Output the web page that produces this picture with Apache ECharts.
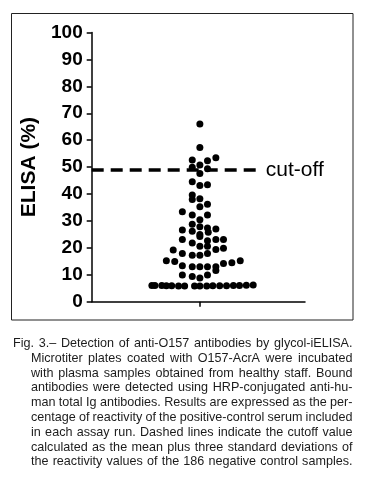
<!DOCTYPE html>
<html>
<head>
<meta charset="utf-8">
<script src="https://cdn.jsdelivr.net/npm/echarts@6/dist/echarts.min.js"></script>
<style>
html,body{margin:0;padding:0;background:#fff;}
#chart{width:365px;height:481px;}
</style>
</head>
<body>
<div id="chart"></div>
<script>
// ---- data ----
const yTickValues = [0, 10, 20, 30, 40, 50, 60, 70, 80, 90, 100];
const yAxisTitle = 'ELISA (%)';
const cutoffValue = 49;
const cutoffLabel = 'cut-off';
// horizontal jitter (scatter-dot-plot column) of each sample
const jitter = [
  0, 0,
  2.1, -1, 1,
  0, -1, 1, 0,
  -1, 0, 1,
  -1, -1, 0,
  1, 0,
  -2.3, -1, 1, 0,
  -1, 0, 1, 2.1, -2.3, -1, 1.1, 0,
  -2.3, 0, 2.1, 3.1, 1,
  -1, 0, 1, 2.1, 3.1,
  -3.5, -2.3, -1, 0, 1,
  -4.4, -3.3,
  -2.3, -1, 0, 1, 2.1, 3.1, 4.2, 5.3, 2.1,
  -2.3, -1, 0, 1,
  -6.3, -5.9, -5.0, -4.4, -3.7, -2.8, -2.0, -0.7, 0, 0.9, 1.7, 2.6, 3.5, 4.4, 5.2, 6.1, 7.0
];
// ELISA reactivity (% of positive control)
const elisa = [
  66.0, 57.3,
  53.5, 52.6, 52.4,
  50.8, 49.9, 49.4, 47.6,
  44.6, 43.2, 43.4,
  39.6, 38.0, 38.2,
  36.2, 35.3,
  33.4, 32.2, 32.2, 30.4,
  28.8, 27.8, 27.4, 27.0, 26.6, 26.2, 25.8, 25.0,
  23.1, 24.2, 23.1, 23.1, 22.6,
  21.8, 20.6, 20.6, 19.4, 19.9,
  19.2, 17.9, 17.3, 17.3, 17.9,
  15.2, 14.9,
  13.4, 13.0, 13.0, 13.0, 13.0, 14.2, 14.5, 15.2, 11.6,
  9.9, 9.4, 8.8, 9.9,
  6.0, 6.0, 6.0, 5.9, 5.9, 5.8, 5.8, 5.8, 5.8, 5.8, 5.9, 5.9, 5.9, 6.0, 6.0, 6.1, 6.2
];
const captionLines = [
  'Fig. 3.\u2013 Detection of anti-O157 antibodies by glycol-iELISA.',
  'Microtiter plates coated with O157-AcrA were incubated',
  'with plasma samples obtained from healthy staff. Bound',
  'antibodies were detected using HRP-conjugated anti-hu-',
  'man total Ig antibodies. Results are expressed as the per-',
  'centage of reactivity of the positive-control serum included',
  'in each assay run. Dashed lines indicate the cutoff value',
  'calculated as the mean plus three standard deviations of',
  'the reactivity values of the 186 negative control samples.'
];

// ---- build ----
const chart = echarts.init(document.getElementById('chart'), null, {renderer: 'canvas'});
const points = elisa.map((v, i) => [jitter[i], v]);

// justified caption, one text element per word
const capFontSize = 12.6;
const capFamily = '"Liberation Sans", Arial, sans-serif';
const capFont = capFontSize + 'px ' + capFamily;
const mctx = document.createElement('canvas').getContext('2d');
mctx.font = capFont;
const captionEls = [];
const rightEdge = 352.5;
captionLines.forEach((line, li) => {
  const left = li === 0 ? 13 : 31;
  const cy = 343.5 + li * 14.8;
  const words = line.split(' ');
  const widths = words.map(w => mctx.measureText(w).width);
  const sumW = widths.reduce((a, b) => a + b, 0);
  const target = rightEdge - left;
  const minGap = capFontSize * 0.24;
  let sx = 1;
  if (sumW + (words.length - 1) * minGap > target) {
    sx = (target - (words.length - 1) * minGap) / sumW;
  }
  const gap = (target - sumW * sx) / (words.length - 1);
  let x = left;
  words.forEach((w, wi) => {
    captionEls.push({
      type: 'text', x: x, y: cy, scaleX: sx, silent: true,
      style: {text: w, font: capFont, fill: '#1c1c1c', verticalAlign: 'middle', align: 'left'}
    });
    x += widths[wi] * sx + gap;
  });
});

const option = {
  animation: false,
  backgroundColor: '#fff',
  grid: {left: 91.7, right: 60, top: 32.5, bottom: 179.3, outerBoundsMode: 'none'},
  xAxis: {
    type: 'value', min: -14.2, max: 13.8,
    axisLine: {show: true, onZero: false, lineStyle: {color: '#000', width: 1.5}},
    axisTick: {show: true, length: 5, customValues: [0], lineStyle: {color: '#000', width: 1.5}},
    axisLabel: {show: false},
    splitLine: {show: false}
  },
  yAxis: {
    type: 'value', min: yTickValues[0], max: yTickValues[yTickValues.length - 1], interval: 10,
    name: yAxisTitle, nameLocation: 'middle', nameRotate: 90, nameGap: 52,
    nameTextStyle: {fontSize: 21, fontWeight: 'bold', fontFamily: '"Liberation Sans", Arial, sans-serif', color: '#000'},
    axisLine: {show: true, onZero: false, lineStyle: {color: '#000', width: 1.5}},
    axisTick: {show: true, length: 5, lineStyle: {color: '#000', width: 1.5}},
    axisLabel: {margin: 9, fontSize: 19, fontWeight: 'bold', fontFamily: '"Liberation Sans", Arial, sans-serif', color: '#000'},
    splitLine: {show: false}
  },
  series: [{
    type: 'scatter',
    data: points,
    symbol: 'circle',
    symbolSize: 7,
    itemStyle: {color: '#000', opacity: 1},
    silent: true,
    markLine: {
      silent: true,
      symbol: ['none', 'none'],
      lineStyle: {color: '#000', width: 3.5, type: [12, 7]},
      label: {show: true, position: 'end', formatter: cutoffLabel, fontSize: 21, color: '#000', distance: 8,
              fontFamily: '"Liberation Sans", Arial, sans-serif'},
      data: [[{coord: [-14.2, cutoffValue]}, {coord: [7.6, cutoffValue]}]]
    }
  }],
  graphic: [
    {type: 'rect', silent: true, shape: {x: 11.5, y: 13.5, width: 341.5, height: 306.5},
     style: {fill: 'none', stroke: '#222', lineWidth: 1}}
  ].concat(captionEls)
};
chart.setOption(option);
</script>
</body>
</html>
